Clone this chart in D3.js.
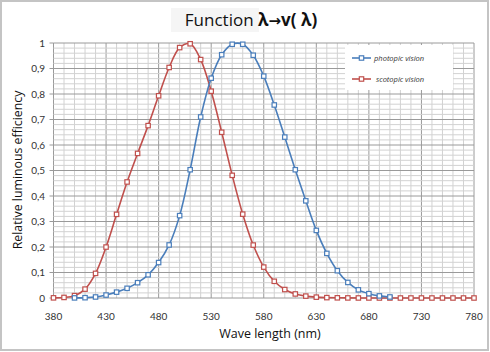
<!DOCTYPE html>
<html>
<head>
<meta charset="utf-8">
<script src="https://cdn.jsdelivr.net/npm/d3@7"></script>
<style>
  html, body { margin: 0; padding: 0; background: #fff; }
  svg { display: block; }
</style>
</head>
<body>
<svg id="chart" width="490" height="352"></svg>
<script>
// ---- data ----
const scotopicWavelengths = [380,390,400,410,420,430,440,450,460,470,480,490,500,510,520,530,540,550,560,570,580,590,600,610,620,630,640,650,660,670,680,690,700,710,720,730,740,750,760,770,780];
const scotopicValues = [0.0006,0.0022,0.0093,0.0348,0.0966,0.1998,0.3281,0.455,0.567,0.676,0.793,0.904,0.982,0.997,0.935,0.811,0.650,0.481,0.3288,0.2076,0.1212,0.0655,0.0332,0.0159,0.0074,0.0033,0.0015,0.0007,0.0003,0.0001,0.0001,0,0,0,0,0,0,0,0,0,0];
const photopicWavelengths = [400,410,420,430,440,450,460,470,480,490,500,510,520,530,540,550,560,570,580,590,600,610,620,630,640,650,660,670,680,690,700];
const photopicValues = [0.0004,0.0012,0.004,0.0116,0.023,0.038,0.06,0.091,0.139,0.208,0.323,0.503,0.71,0.862,0.954,0.995,0.995,0.952,0.87,0.757,0.631,0.503,0.381,0.265,0.175,0.107,0.061,0.032,0.017,0.0082,0.0041];
const xTickValues = [380,430,480,530,580,630,680,730,780];
const yTickValues = [0,0.1,0.2,0.3,0.4,0.5,0.6,0.7,0.8,0.9,1];
const yTickLabels = ["0","0,1","0,2","0,3","0,4","0,5","0,6","0,7","0,8","0,9","1"];
const seriesNames = ["photopic vision","scotopic vision"];
const seriesColors = ["#4a7ebb","#c0504d"];

// ---- chart ----
const svg = d3.select("#chart");
const W = 490, H = 352;
const x = d3.scaleLinear().domain([380,780]).range([53.5,474]);
const y = d3.scaleLinear().domain([0,1]).range([298,43]);

// outer frame
svg.append("rect").attr("x",1).attr("y",1).attr("width",W-3).attr("height",H-3)
  .attr("fill","#fff").attr("stroke","#c4c4c4").attr("stroke-width",2);

// title
svg.append("rect").attr("x",171).attr("y",8).attr("width",88).attr("height",24).attr("fill","#f5f5f5");
const title = svg.append("text").attr("x",251).attr("y",26).attr("text-anchor","middle")
  .attr("font-family","'Open Sans', sans-serif").attr("font-size",17).attr("fill","#111");
title.append("tspan").text("Function ");
title.append("tspan").attr("font-weight","bold").text("λ");
title.append("tspan").attr("font-weight","bold").attr("font-family","'DejaVu Sans', sans-serif").attr("font-size",15).text("→");
title.append("tspan").attr("font-weight","bold").text("v( λ)");

// grid
const g = svg.append("g");
const minorX = d3.range(380, 781, 10);
const minorY = d3.range(0, 1.0001, 0.02);
g.selectAll(".vminor").data(minorX).join("line")
  .attr("x1",d=>x(d)).attr("x2",d=>x(d)).attr("y1",y(0)).attr("y2",y(1))
  .attr("stroke",d=> (d-380)%50===0 ? "#9a9a9a" : "#d2d2d2").attr("stroke-width",1);
g.selectAll(".hminor").data(minorY).join("line")
  .attr("x1",x(380)).attr("x2",x(780)).attr("y1",d=>y(d)).attr("y2",d=>y(d))
  .attr("stroke",d=> Math.abs(Math.round(d*10)-d*10)<1e-6 ? "#9a9a9a" : "#d2d2d2").attr("stroke-width",1);

// y ticks
g.selectAll(".ytick").data(yTickValues).join("line")
  .attr("x1",x(380)-4).attr("x2",x(380)).attr("y1",d=>y(d)).attr("y2",d=>y(d)).attr("stroke","#9a9a9a");
svg.selectAll(".ylab").data(yTickValues).join("text")
  .attr("x",45).attr("y",d=>y(d)+3.5).attr("text-anchor","end")
  .attr("font-family","Lato, sans-serif").attr("font-size",10).attr("fill","#333")
  .text((d,i)=>yTickLabels[i]);
svg.selectAll(".xlab").data(xTickValues).join("text")
  .attr("x",d=>x(d)).attr("y",320).attr("text-anchor","middle")
  .attr("font-family","Lato, sans-serif").attr("font-size",10).attr("fill","#333")
  .text(d=>d);

// axis titles
svg.append("text").attr("x",270).attr("y",338).attr("text-anchor","middle")
  .attr("font-family","'Open Sans', sans-serif").attr("font-size",12.5).attr("fill","#111")
  .text("Wave length (nm)");
svg.append("text").attr("transform","translate(22,170) rotate(-90)").attr("text-anchor","middle")
  .attr("font-family","'Open Sans', sans-serif").attr("font-size",12.3).attr("fill","#111")
  .text("Relative luminous efficiency");

// legend
svg.append("rect").attr("x",345).attr("y",45).attr("width",108).attr("height",45).attr("fill","#fff");

// series
const series = [
  {name: seriesNames[0], color: seriesColors[0], wl: photopicWavelengths, v: photopicValues},
  {name: seriesNames[1], color: seriesColors[1], wl: scotopicWavelengths, v: scotopicValues}
];
const line = d3.line().x(d=>x(d[0])).y(d=>y(d[1])).curve(d3.curveCatmullRom.alpha(0.5));
const ms = 4.4;
series.slice().reverse().forEach(s => {
  const pts = s.wl.map((w,i)=>[w, s.v[i]]);
  svg.append("path").attr("d", line(pts)).attr("fill","none").attr("stroke",s.color).attr("stroke-width",1.6);
  svg.append("g").selectAll("rect").data(pts).join("rect")
    .attr("x",d=>x(d[0])-ms/2).attr("y",d=>y(d[1])-ms/2).attr("width",ms).attr("height",ms)
    .attr("fill","#fff").attr("stroke",s.color).attr("stroke-width",1.2);
});

// legend entries
const legY = [58, 79];
const legTextX = [374, 376];
series.forEach((s,i) => {
  svg.append("line").attr("x1",352).attr("x2",371).attr("y1",legY[i]).attr("y2",legY[i])
    .attr("stroke",s.color).attr("stroke-width",1.6);
  svg.append("rect").attr("x",361.5-ms/2).attr("y",legY[i]-ms/2).attr("width",ms).attr("height",ms)
    .attr("fill","#fff").attr("stroke",s.color).attr("stroke-width",1.2);
  svg.append("text").attr("x",legTextX[i]).attr("y",legY[i]+2.5)
    .attr("font-family","'Open Sans', sans-serif").attr("font-size",7.5).attr("font-style","italic")
    .attr("fill","#333").text(s.name);
});
</script>
</body>
</html>
